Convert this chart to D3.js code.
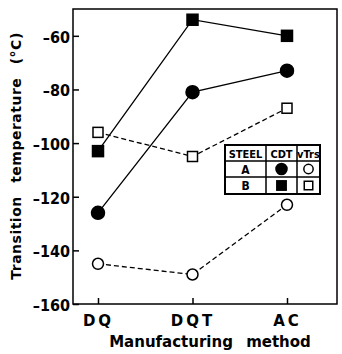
<!DOCTYPE html>
<html>
<head>
<meta charset="utf-8">
<script src="https://cdn.jsdelivr.net/npm/d3@7"></script>
<style>
  body { margin: 0; background: #fff; }
  text { font-family: 'DejaVu Sans', sans-serif; font-weight: bold; fill: #000; }
  .cond { font-family: 'DejaVu Sans Condensed', 'Liberation Sans Narrow', sans-serif; }
</style>
</head>
<body>
<div id="chart"></div>
<script>
// data
const methods = ['DQ', 'DQT', 'AC'];
const yTicks = [-60, -80, -100, -120, -140, -160];
const cdtA = [-126, -81, -73];
const cdtB = [-103, -54, -60];
const vtrsA = [-145, -149, -123];
const vtrsB = [-96, -105, -87];

const W = 342, H = 354;
const margin = { top: 9, right: 5, bottom: 50, left: 73 };
const width = W - margin.left - margin.right,
  height = H - margin.top - margin.bottom;

const svg = d3.select('#chart').append('svg')
  .attr('width', W).attr('height', H);
const g = svg.append('g')
  .attr('transform', 'translate(' + margin.left + ',' + margin.top + ')');

const x = d3.scalePoint().domain(methods).range([25, 214]);
const y = d3.scaleLinear().domain([-160, -50]).range([height, 0]);

// frame
g.append('rect').attr('width', width).attr('height', height)
  .attr('fill', 'none').attr('stroke', '#000').attr('stroke-width', 1.5);

// y axis
const yAx = g.append('g')
  .call(d3.axisLeft(y).tickValues(yTicks).tickSize(-6).tickPadding(3).tickFormat(d => d.toString().replace('-', '\u2013')));
yAx.select('.domain').remove();
yAx.selectAll('line').attr('stroke', '#000').attr('stroke-width', 1.5);
yAx.selectAll('text').attr('class', 'cond').style('font-size', '16px').attr('dy', '0.4em');

// x axis
const xAx = g.append('g').attr('transform', 'translate(0,' + height + ')')
  .call(d3.axisBottom(x).tickSize(-6).tickPadding(8));
xAx.select('.domain').remove();
xAx.selectAll('line').attr('stroke', '#000').attr('stroke-width', 1.5);
xAx.selectAll('text').style('font-size', '15px').style('letter-spacing', '3px').attr('dy', '0.9em');

// axis titles
svg.append('text').attr('x', 210).attr('y', 347).attr('text-anchor', 'middle')
  .style('font-size', '15px').style('word-spacing', '8px').text('Manufacturing method');
svg.append('text').attr('transform', 'translate(21,' + 156 + ') rotate(-90)')
  .attr('text-anchor', 'middle').style('font-size', '14px').style('letter-spacing', '0.5px')
  .style('word-spacing', '8px').text('Transition temperature (\u00b0C)');

const series = [
  { vals: cdtA, dash: null, shape: 'circle', fill: true },
  { vals: cdtB, dash: null, shape: 'square', fill: true },
  { vals: vtrsA, dash: '5,3', shape: 'circle', fill: false },
  { vals: vtrsB, dash: '5,3', shape: 'square', fill: false },
];

const line = d3.line().x((d, i) => x(methods[i])).y(d => y(d));

function marker(sel, s, cx, cy, scale) {
  const k = scale || 1;
  if (s.shape === 'circle') {
    sel.append('circle').attr('cx', cx).attr('cy', cy)
      .attr('r', (s.fill ? 6.5 : 5.5) * k)
      .attr('fill', s.fill ? '#000' : '#fff').attr('stroke', '#000').attr('stroke-width', 1.5);
  } else {
    const a = (s.fill ? 11 : 10) * k;
    sel.append('rect').attr('x', cx - a / 2).attr('y', cy - a / 2).attr('width', a).attr('height', a)
      .attr('fill', s.fill ? '#000' : '#fff').attr('stroke', '#000').attr('stroke-width', 1.5);
  }
}

series.forEach(s => {
  g.append('path').datum(s.vals).attr('d', line)
    .attr('fill', 'none').attr('stroke', '#000').attr('stroke-width', 1.3)
    .attr('stroke-dasharray', s.dash);
});
series.forEach(s => {
  s.vals.forEach((v, i) => marker(g, s, x(methods[i]), y(v)));
});

// legend table
const leg = svg.append('g');
const cols = [225, 266, 297, 320];
const rows = [145, 161, 177, 194];
leg.append('rect').attr('x', cols[0]).attr('y', rows[0])
  .attr('width', cols[3] - cols[0]).attr('height', rows[3] - rows[0])
  .attr('fill', '#fff').attr('stroke', '#000').attr('stroke-width', 2);
rows.slice(1, 3).forEach(r => leg.append('line').attr('x1', cols[0]).attr('x2', cols[3])
  .attr('y1', r).attr('y2', r).attr('stroke', '#000').attr('stroke-width', 1.5));
cols.slice(1, 3).forEach(c => leg.append('line').attr('x1', c).attr('x2', c)
  .attr('y1', rows[0]).attr('y2', rows[3]).attr('stroke', '#000').attr('stroke-width', 1.5));
const mid = (a, i) => (a[i] + a[i + 1]) / 2;
[['STEEL', 'CDT', 'vTrs'], ['A'], ['B']].forEach((row, ri) => {
  row.forEach((t, ci) => {
    leg.append('text').attr('x', mid(cols, ci)).attr('y', mid(rows, ri) + 4.5)
      .attr('text-anchor', 'middle').attr('class', 'cond')
      .style('font-size', ri === 0 ? '11px' : '12px').text(t);
  });
});
marker(leg, series[0], mid(cols, 1), mid(rows, 1), 0.85);
marker(leg, series[2], mid(cols, 2), mid(rows, 1), 0.85);
marker(leg, series[1], mid(cols, 1), mid(rows, 2), 0.85);
marker(leg, series[3], mid(cols, 2), mid(rows, 2), 0.85);
</script>
</body>
</html>
